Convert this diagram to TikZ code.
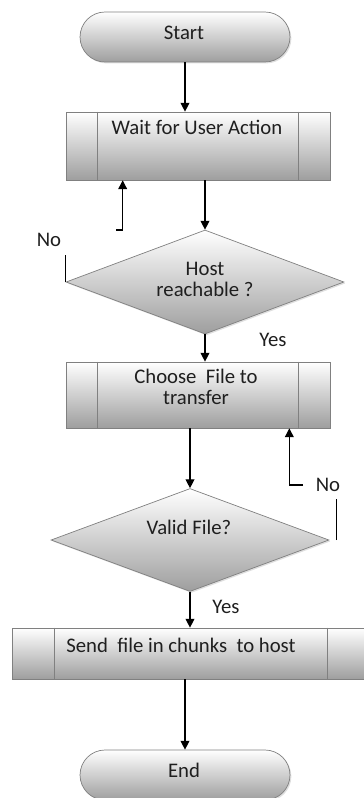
\documentclass[tikz,border=0pt]{standalone}
\usepackage{fontspec}
\setmainfont{Carlito}
\usetikzlibrary{shapes.geometric,shadows,arrows.meta,calc}
\tikzset{
	shadebox/.style={draw=black!50,top color=white,bottom color=black!38,inner sep=0pt,
		drop shadow={opacity=0.25,shadow xshift=0.8pt,shadow yshift=-0.8pt}},
	termbox/.style={shadebox,rectangle,rounded corners=0.5cm,minimum width=4.2cm,minimum height=1cm},
	procbox/.style={shadebox,rectangle},
	decbox/.style={shadebox,diamond,minimum width=5.56cm},
	arr/.style={line width=0.7pt,-{Triangle[length=5pt,width=5pt]}},
	link/.style={line width=0.7pt},
	lbl/.style={font=\fontsize{11.8}{12}\selectfont,text=black!88,align=center}
}
\begin{document}
\begin{tikzpicture}[x=0.02cm,y=-0.02cm]
	\useasboundingbox (0,0) rectangle (364,798);
	\node[termbox] (start) at (185,37) {};
	\node[procbox,minimum width=5.28cm,minimum height=1.36cm] (wait) at (198,146) {};
	\node[decbox,minimum height=2.08cm] (hst) at (205,282) {};
	\node[procbox,minimum width=5.28cm,minimum height=1.32cm] (choose) at (198,395) {};
	\node[decbox,minimum height=2.06cm] (valid) at (190,540) {};
	\node[procbox,minimum width=7.16cm,minimum height=1.02cm] (send) at (191,653.5) {};
	\node[termbox] (end) at (185,775) {};
	\foreach \b/\d in {wait/32,choose/32,send/43}{
		\draw[black!50] ($(\b.north west)+(\d,0)$) -- ($(\b.south west)+(\d,0)$);
		\draw[black!50] ($(\b.north east)+(-\d,0)$) -- ($(\b.south east)+(-\d,0)$);
	}
	\node[lbl] (starttxt) at (184,33) {Start};
	\node[lbl] (waittxt) at (197,127) {Wait for User Action};
	\node[lbl] (hsttxt) at (205,279) {Host\\reachable ?};
	\node[lbl] (choosetxt) at (196,387) {Choose~ File to\\transfer};
	\node[lbl] (validtxt) at (189,527) {Valid File?};
	\node[lbl] (sendtxt) at (181,645) {Send~ file in chunks~ to host};
	\node[lbl] (endtxt) at (184,770) {End};
	\node[lbl] (no1) at (49,240) {No};
	\node[lbl] (yes1) at (273,340) {Yes};
	\node[lbl] (no2) at (328,485) {No};
	\node[lbl] (yes2) at (226,607) {Yes};
	\draw[arr] (start.south) -- (start.south |- wait.north);
	\draw[arr] (hst.north |- wait.south) -- (hst.north);
	\draw[arr] (hst.south) -- (hst.south |- choose.north);
	\draw[arr] (valid.north |- choose.south) -- (valid.north);
	\draw[arr] (valid.south) -- (valid.south |- send.north);
	\draw[arr] (end.north |- send.south) -- (end.north);
	\coordinate (noa) at (116,230);
	\coordinate (nob) at (303,485);
	\draw[link] (hst.west) -- ++(0,-27);
	\draw[arr] (noa) -| ($(wait.south west)+(57,0)$);
	\draw[link] ($(valid.east)+(7,0)$) -- ++(0,-41);
	\draw[arr] (nob) -| ($(choose.south east)+(-41,0)$);
\end{tikzpicture}
\end{document}
